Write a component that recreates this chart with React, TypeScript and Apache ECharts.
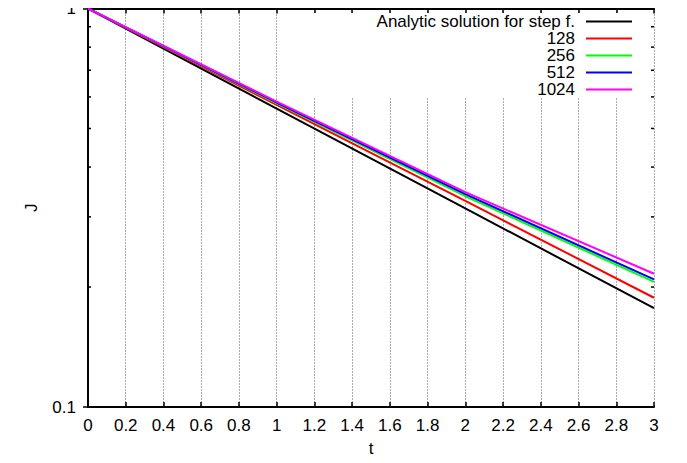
import React, { useEffect, useRef } from "react";
import * as echarts from "echarts";

const tValues = [0, 1, 2, 3];
const analytic = [1, 0.561, 0.315, 0.177];
const s128 = [1, 0.573, 0.329, 0.188];
const s256 = [1, 0.578, 0.338, 0.206];
const s512 = [1, 0.581, 0.342, 0.209];
const s1024 = [1, 0.584, 0.346, 0.216];
const seriesNames = ["Analytic solution for step f.", "128", "256", "512", "1024"];
const seriesColors = ["#000000", "#ff0000", "#00ff00", "#0000ff", "#ff00ff"];
const minorTickValues = [0.2, 0.3, 0.4, 0.5, 0.6, 0.7, 0.8, 0.9];

const FONT = "Liberation Sans";
const FS = 17;

export default function App() {
  const ref = useRef<HTMLDivElement>(null);
  useEffect(() => {
    if (!ref.current) return;
    const chart = echarts.init(ref.current, undefined, { renderer: "svg" });
    const all = [analytic, s128, s256, s512, s1024];
    const lineSeries = all.map((vals, i) => ({
      name: seriesNames[i],
      type: "line",
      data: tValues.map((t, j) => [t, vals[j]]),
      showSymbol: false,
      symbol: "none",
      lineStyle: { color: seriesColors[i], width: 2 },
      itemStyle: { color: seriesColors[i] },
      z: 6,
      clip: true,
    }));
    const minorData: number[][] = [];
    minorTickValues.forEach((v) => {
      minorData.push([0, v, 1]);
      minorData.push([3, v, -1]);
    });
    const axisLineStyle = { color: "#000", width: 2 };
    const labelFmt = (v: number) => String(Math.round(v * 10) / 10);
    const option: any = {
      animation: false,
      backgroundColor: "#fff",
      textStyle: { fontFamily: FONT, fontSize: FS },
      grid: { left: 88, right: 33, top: 7, bottom: 56, containLabel: false },
      legend: {
        data: seriesNames,
        orient: "vertical",
        align: "right",
        right: 49,
        top: 8,
        padding: 5,
        itemWidth: 46,
        itemHeight: 14,
        itemGap: 0,
        itemStyle: { opacity: 0 },
        textStyle: { fontFamily: FONT, fontSize: FS, color: "#000", lineHeight: 17, padding: [0, 6, 0, 0] },
        z: 10,
      },
      graphic: [
        {
          type: "rect",
          shape: { x: 300, y: 13, width: 350, height: 84 },
          style: { fill: "#fff" },
          z: 1,
          silent: true,
        },
      ],
      xAxis: [
        {
          type: "value",
          min: 0,
          max: 3,
          interval: 0.2,
          name: "t",
          nameLocation: "middle",
          nameGap: 33,
          nameTextStyle: { fontFamily: FONT, fontSize: FS, color: "#000" },
          axisLine: { show: true, lineStyle: axisLineStyle },
          axisTick: { show: true, inside: true, length: 5, lineStyle: { color: "#000", width: 1.5 } },
          axisLabel: { fontFamily: FONT, fontSize: FS, color: "#000", margin: 10, formatter: labelFmt },
          splitLine: { show: true, lineStyle: { color: "#555", type: [1, 2], width: 1 } },
        },
        {
          type: "value",
          position: "top",
          min: 0,
          max: 3,
          interval: 0.2,
          axisLine: { show: true, lineStyle: axisLineStyle },
          axisTick: { show: true, inside: true, length: 5, lineStyle: { color: "#000", width: 1.5 } },
          axisLabel: { show: false },
          splitLine: { show: false },
        },
      ],
      yAxis: [
        {
          type: "log",
          logBase: 10,
          min: 0.1,
          max: 1,
          name: "J",
          nameLocation: "middle",
          nameGap: 48,
          nameRotate: 90,
          nameTextStyle: { fontFamily: FONT, fontSize: FS, color: "#000" },
          axisLine: { show: true, lineStyle: axisLineStyle },
          axisTick: { show: true, inside: true, length: 5, lineStyle: { color: "#000", width: 1.5 } },
          axisLabel: { fontFamily: FONT, fontSize: FS, color: "#000", margin: 12, formatter: labelFmt },
          splitLine: { show: false },
          minorTick: { show: false },
        },
        {
          type: "log",
          logBase: 10,
          min: 0.1,
          max: 1,
          position: "right",
          axisLine: { show: true, lineStyle: axisLineStyle },
          axisTick: { show: true, inside: true, length: 5, lineStyle: { color: "#000", width: 1.5 } },
          axisLabel: { show: false },
          splitLine: { show: false },
        },
      ],
      series: [
        ...lineSeries,
        {
          type: "custom",
          name: "minorTicks",
          data: minorData,
          clip: false,
          silent: true,
          z: 7,
          renderItem: (params: any, api: any) => {
            const pt = api.coord([api.value(0), api.value(1)]);
            const dir = api.value(2);
            return {
              type: "line",
              shape: { x1: pt[0], y1: pt[1], x2: pt[0] + dir * 3, y2: pt[1] },
              style: { stroke: "#000", lineWidth: 1.5 },
            };
          },
        },
      ],
    };
    chart.setOption(option);
    return () => chart.dispose();
  }, []);
  return <div ref={ref} style={{ width: 687, height: 463, margin: -8 }} />;
}
